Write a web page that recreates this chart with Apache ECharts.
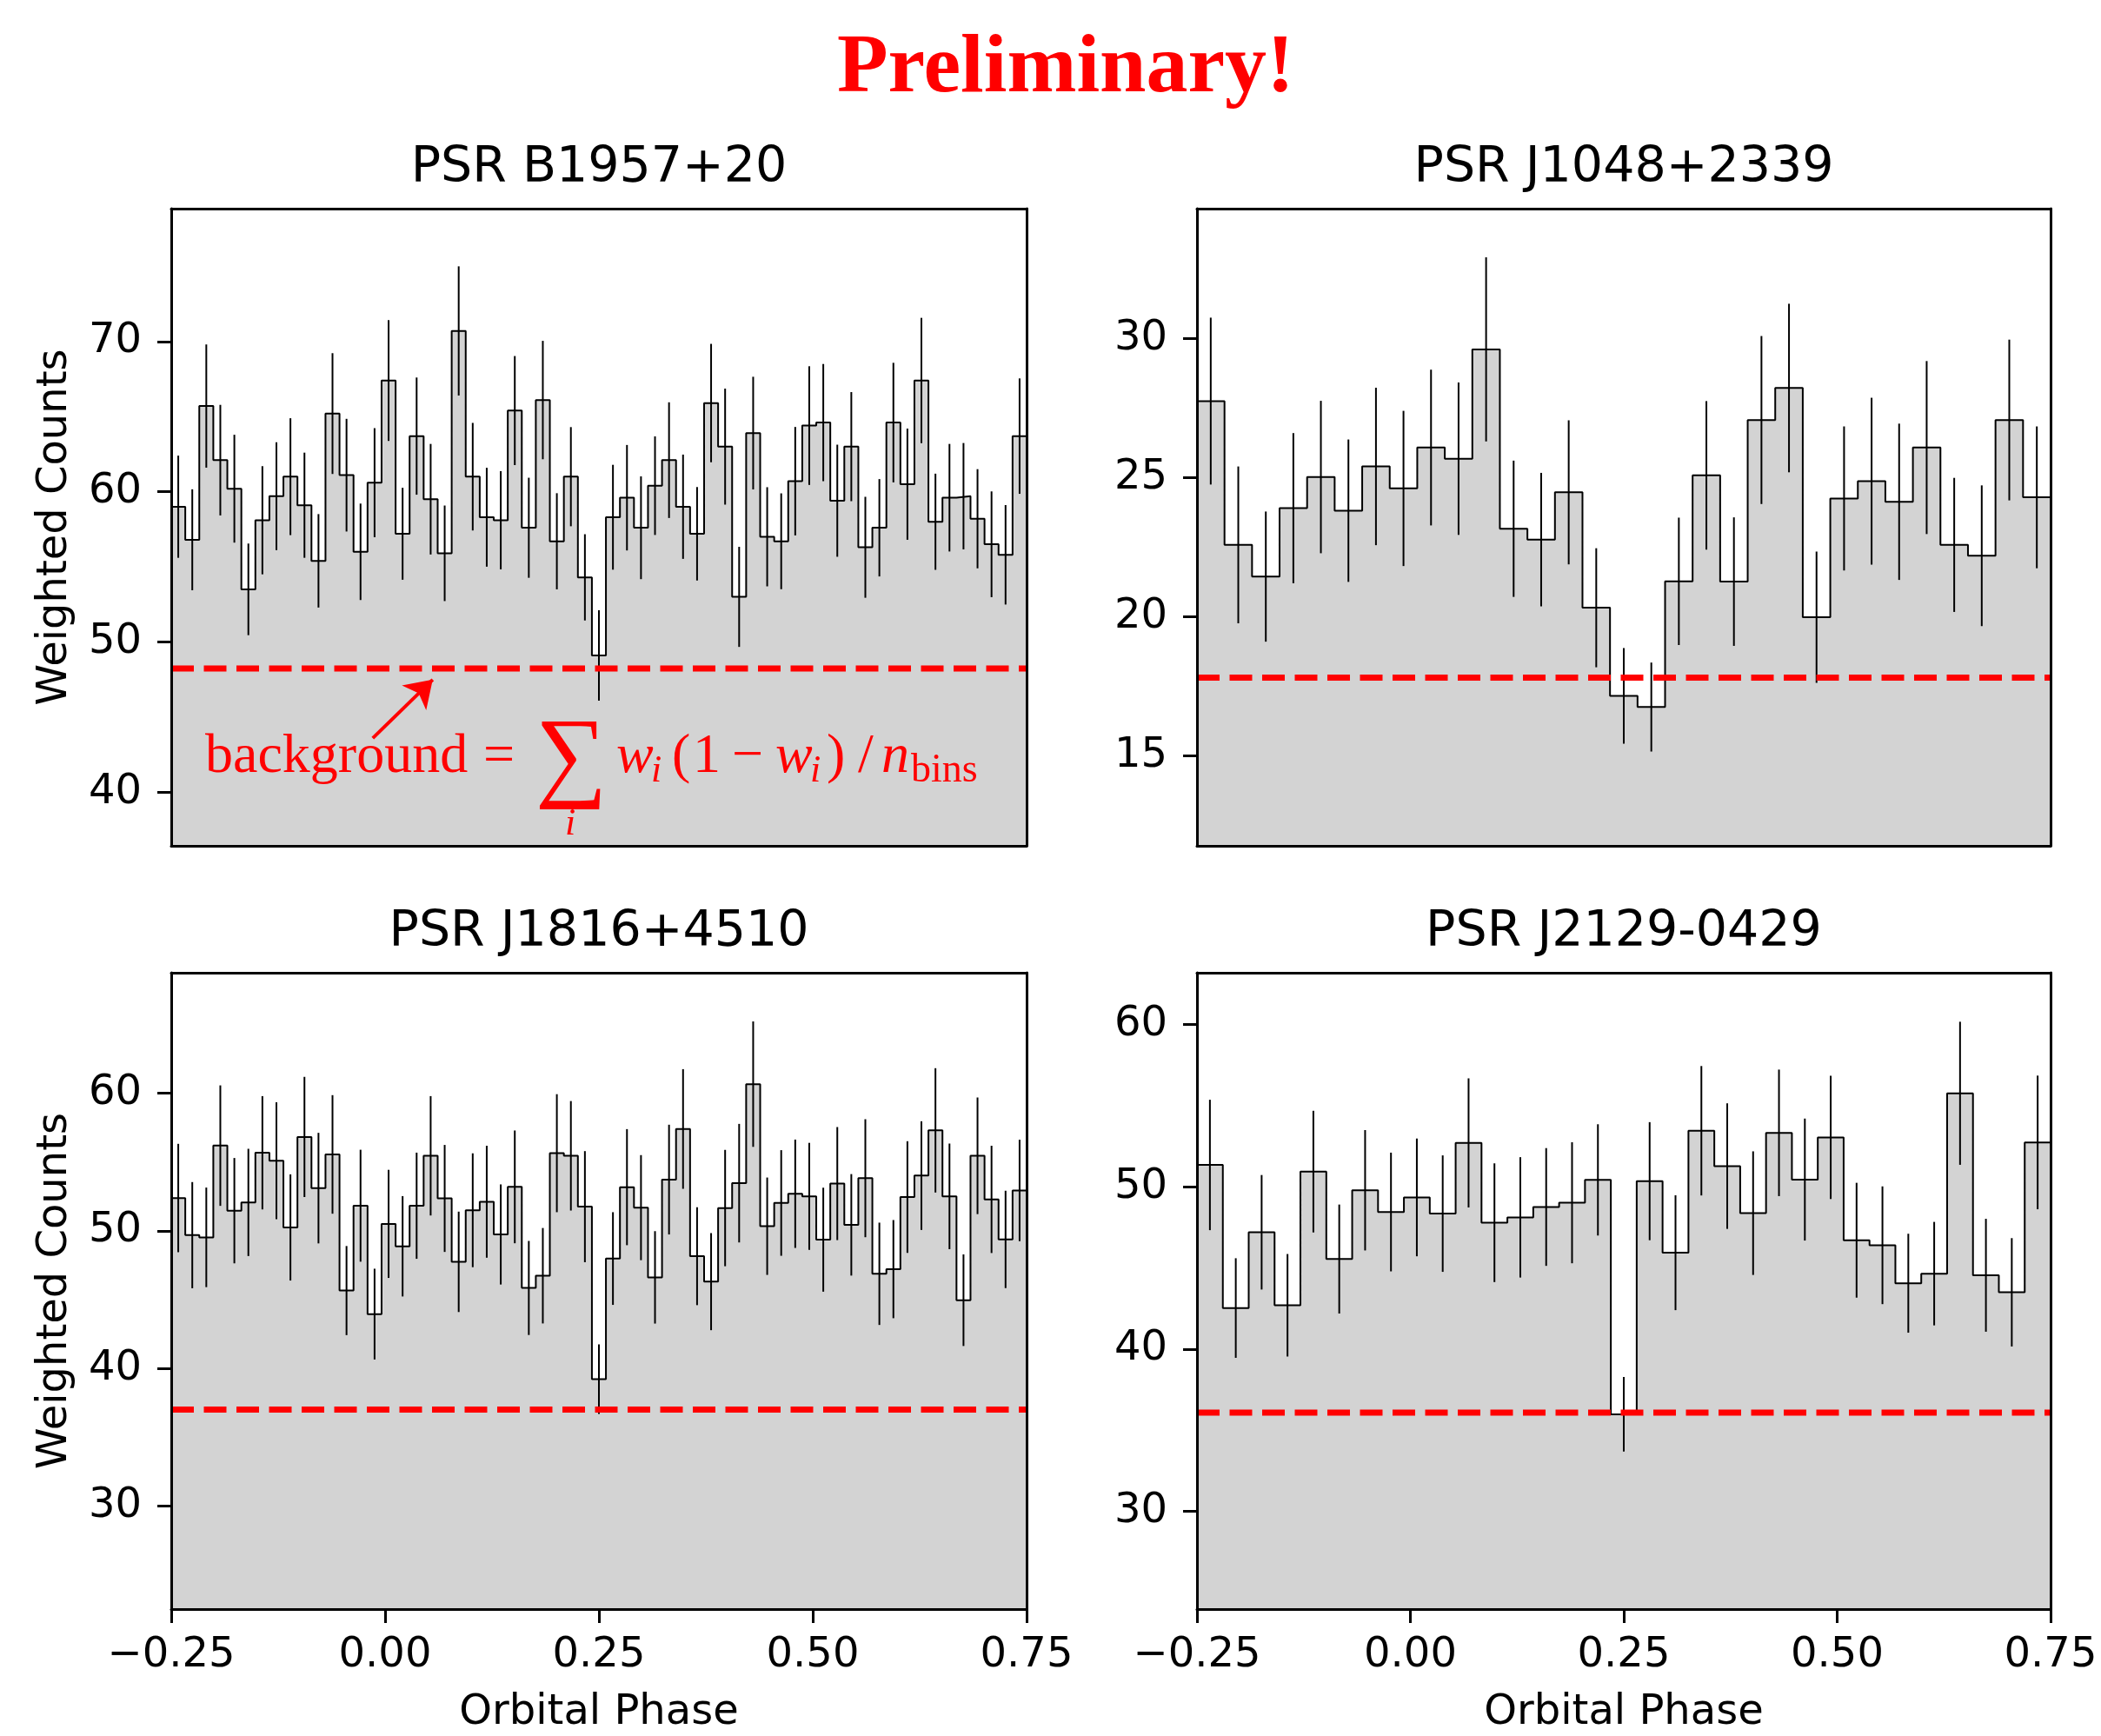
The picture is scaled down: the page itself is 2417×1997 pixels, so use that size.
<!DOCTYPE html>
<html>
<head>
<meta charset="utf-8"/>
<script src="https://cdn.jsdelivr.net/npm/echarts@6/dist/echarts.min.js"></script>
<style>html,body{margin:0;padding:0;background:#fff;}</style>
</head>
<body>
<div id="main" style="width:2417px;height:1997px;"></div>
<script>
// weighted counts per orbital phase bin
var b1957Counts = [59.0,56.8,65.7,62.1,60.2,53.5,58.1,59.7,61.0,59.1,
  55.4,65.2,61.1,56.0,60.6,67.4,57.2,63.7,59.5,55.9,
  70.7,61.0,58.3,58.1,65.4,57.6,66.1,56.7,61.0,54.3,
  49.1,58.3,59.6,57.6,60.4,62.1,59.0,57.2,65.9,63.0,
  53.0,63.9,57.0,56.7,60.7,64.4,64.6,59.4,63.0,56.3,
  57.6,64.6,60.5,67.4,58.0,59.6,59.7,58.2,56.5,55.8,63.7];
var b1957Err = [3.4,3.36,4.1,3.68,3.59,3.05,3.6,3.59,3.89,3.5,
  3.11,4.02,3.75,3.21,3.63,4.02,3.06,3.9,3.68,3.18,
  4.3,3.58,3.29,3.27,3.63,3.33,3.94,3.2,3.3,2.87,
  3.01,3.49,3.51,3.42,3.28,3.85,3.47,3.11,3.94,3.86,
  3.33,3.75,3.3,3.19,3.61,3.95,3.9,3.73,3.63,3.36,
  3.24,3.98,3.7,4.17,3.2,3.58,3.54,3.3,3.52,3.31,3.84];

var j1048Counts = [27.76,22.59,21.45,23.91,25.03,23.82,25.41,24.62,26.09,25.69,
  29.62,23.17,22.78,24.48,20.33,17.16,16.76,21.28,25.09,21.27,
  27.08,28.23,19.99,24.26,24.88,24.14,26.09,22.59,22.2,27.08,24.3];
var j1048Err = [3.0,2.82,2.34,2.7,2.74,2.56,2.83,2.79,2.8,2.74,
  3.31,2.45,2.4,2.59,2.14,1.72,1.6,2.29,2.67,2.31,
  3.02,3.03,2.36,2.59,3.0,2.81,3.11,2.41,2.53,2.89,2.55];

var j1816Counts = [52.39,49.69,49.53,56.2,51.47,52.07,55.68,55.1,50.25,56.83,
  53.11,55.56,45.66,51.83,43.95,50.51,48.88,51.83,55.46,52.36,
  47.75,51.5,52.12,49.74,53.2,45.85,46.74,55.65,55.46,51.76,
  39.22,47.99,53.18,51.69,46.62,53.73,57.41,48.16,46.31,51.66,
  53.47,60.67,50.34,52.03,52.7,52.51,49.36,53.44,50.44,53.83,
  46.88,47.22,52.46,54.02,57.31,52.51,44.96,55.46,52.29,49.38,52.94];
var j1816Err = [3.94,3.86,3.62,4.38,3.83,3.9,4.12,4.25,3.86,4.37,
  4.02,4.31,3.24,4.07,3.3,3.93,3.65,3.86,4.34,3.89,
  3.65,4.14,4.07,3.64,4.1,3.42,3.47,4.29,3.98,4.04,
  2.53,3.37,4.22,3.82,3.36,3.99,4.35,3.56,3.53,4.23,
  4.31,4.56,3.54,3.84,3.94,3.89,3.78,4.11,3.69,4.29,
  3.72,3.57,4.06,3.95,4.52,3.84,3.33,4.24,3.9,3.54,3.69];

var j2129Counts = [51.35,42.53,47.2,42.7,50.94,45.55,49.79,48.45,49.35,48.35,
  52.71,47.79,48.12,48.76,49.02,50.43,35.98,50.35,45.94,53.46,
  51.28,48.38,53.33,50.45,53.05,46.71,46.4,44.06,44.65,55.77,
  44.55,43.5,52.74];
var j2129Err = [4.02,3.07,3.53,3.16,3.75,3.36,3.71,3.66,3.63,3.59,
  3.98,3.66,3.71,3.63,3.73,3.43,2.3,3.64,3.54,3.99,
  3.87,3.81,3.9,3.76,3.8,3.54,3.63,3.05,3.19,4.41,
  3.48,3.34,4.12];

var titles = ['PSR B1957+20', 'PSR J1048+2339', 'PSR J1816+4510', 'PSR J2129-0429'];
var backgrounds = [48.23, 17.82, 37.01, 36.08];
var yRanges = [[36.43, 78.84], [11.77, 34.68], [22.5, 68.77], [23.97, 63.2]];
var yTicks = [[40, 50, 60, 70], [15, 20, 25, 30], [30, 40, 50, 60], [30, 40, 50, 60]];
var xTicks = [-0.25, 0, 0.25, 0.5, 0.75];
var phaseMin = -0.25, phaseMax = 0.75;

var panels = [
  {counts: b1957Counts, err: b1957Err},
  {counts: j1048Counts, err: j1048Err},
  {counts: j1816Counts, err: j1816Err},
  {counts: j2129Counts, err: j2129Err}
];

var FONT = '"DejaVu Sans", sans-serif';
var SERIF = '"Liberation Serif", "DejaVu Serif", serif';
var RED = '#ff0000';

var grids = [
  {left: 197, top: 240, width: 984, height: 733},
  {left: 1377, top: 240, width: 982, height: 733},
  {left: 197, top: 1119, width: 984, height: 732},
  {left: 1377, top: 1119, width: 982, height: 732}
];

function phaseLabel(v) {
  var s = Math.abs(v).toFixed(2);
  return v < -1e-9 ? '\u2212' + s : s;
}

var xAxes = [], yAxes = [], series = [];
var axisLineStyle = {color: '#000', width: 3};

panels.forEach(function (p, i) {
  var bottomRow = i >= 2, leftCol = (i % 2 === 0);
  var n = p.counts.length, w = (phaseMax - phaseMin) / n;

  xAxes.push({
    type: 'value', gridIndex: i, min: phaseMin, max: phaseMax, position: 'bottom', z: 5,
    axisLine: {show: true, onZero: false, lineStyle: axisLineStyle},
    axisTick: {show: bottomRow, customValues: xTicks, length: 16, lineStyle: axisLineStyle},
    axisLabel: {show: bottomRow, customValues: xTicks, margin: 30, formatter: phaseLabel,
      fontSize: 48, fontFamily: FONT, color: '#000'},
    splitLine: {show: false},
    name: bottomRow ? 'Orbital Phase' : '', nameLocation: 'middle', nameGap: 96,
    nameTextStyle: {fontSize: 48, fontFamily: FONT, color: '#000'}
  });
  xAxes.push({
    type: 'value', gridIndex: i, min: phaseMin, max: phaseMax, position: 'top', z: 5,
    axisLine: {show: true, onZero: false, lineStyle: axisLineStyle},
    axisTick: {show: false}, axisLabel: {show: false}, splitLine: {show: false}
  });
  yAxes.push({
    type: 'value', gridIndex: i, min: yRanges[i][0], max: yRanges[i][1], position: 'left', z: 5,
    axisLine: {show: true, onZero: false, lineStyle: axisLineStyle},
    axisTick: {show: true, customValues: yTicks[i], length: 16, lineStyle: axisLineStyle},
    axisLabel: {customValues: yTicks[i], margin: 34, fontSize: 48, fontFamily: FONT, color: '#000'},
    splitLine: {show: false},
    name: leftCol ? 'Weighted Counts' : '', nameLocation: 'middle', nameGap: 109,
    nameTextStyle: {fontSize: 48, fontFamily: FONT, color: '#000'}
  });
  yAxes.push({
    type: 'value', gridIndex: i, min: yRanges[i][0], max: yRanges[i][1], position: 'right', z: 5,
    axisLine: {show: true, onZero: false, lineStyle: axisLineStyle},
    axisTick: {show: false}, axisLabel: {show: false}, splitLine: {show: false}
  });

  var steps = [], bars = [];
  for (var k = 0; k < n; k++) {
    steps.push([phaseMin + k * w, p.counts[k]]);
    bars.push([phaseMin + (k + 0.5) * w, p.counts[k] - p.err[k], p.counts[k] + p.err[k]]);
  }
  steps.push([phaseMax, p.counts[n - 1]]);

  series.push({
    type: 'line', xAxisIndex: 2 * i, yAxisIndex: 2 * i, data: steps, step: 'end',
    showSymbol: false, symbol: 'none', z: 2,
    lineStyle: {color: '#000', width: 2},
    areaStyle: {color: '#d3d3d3', opacity: 1, origin: 'start'}
  });
  series.push({
    type: 'custom', xAxisIndex: 2 * i, yAxisIndex: 2 * i, data: bars, z: 3,
    encode: {x: 0, y: [1, 2]},
    renderItem: function (params, api) {
      var x = api.value(0);
      var lo = api.coord([x, api.value(1)]);
      var hi = api.coord([x, api.value(2)]);
      return {type: 'line', shape: {x1: lo[0], y1: lo[1], x2: hi[0], y2: hi[1]},
        style: {stroke: '#000', lineWidth: 2}};
    }
  });
  var bgSeries = {
    type: 'line', xAxisIndex: 2 * i, yAxisIndex: 2 * i, z: 4, symbol: 'none',
    data: [[phaseMin, backgrounds[i]], [phaseMax, backgrounds[i]]],
    lineStyle: {color: RED, width: 7, type: [26, 11.5]}
  };
  if (i === 0) {
    // arrow pointing from the formula to the background level
    bgSeries.markLine = {
      silent: true, symbol: ['none', 'arrow'], symbolSize: 30,
      label: {show: false},
      lineStyle: {color: RED, width: 4, type: 'solid'},
      data: [[{coord: [-0.0144, 43.6]}, {coord: [0.0557, 47.49]}]]
    };
  }
  series.push(bgSeries);
});

function txt(x, y, text, font, align, fill) {
  return {type: 'text', x: x, y: y, z: 100, style: {text: text, font: font, fill: fill || '#000',
    align: align, textAlign: align, verticalAlign: 'middle', textVerticalAlign: 'middle'}};
}

var MAIN = '64px ' + SERIF, ITAL = 'italic 64px ' + SERIF;
var SUBI = 'italic 44px ' + SERIF, SUB = '46px ' + SERIF;

var graphics = [
  txt(1226, 80, 'Preliminary!', 'bold 96px ' + SERIF, 'center', RED),
  txt(689, 194, titles[0], '57px ' + FONT, 'center'),
  txt(1868, 194, titles[1], '57px ' + FONT, 'center'),
  txt(689, 1073, titles[2], '57px ' + FONT, 'center'),
  txt(1868, 1073, titles[3], '57px ' + FONT, 'center'),
  // background formula
  txt(236, 871, 'background', MAIN, 'left', RED),
  txt(574, 871, '=', MAIN, 'center', RED),
  txt(657, 876, '\u2211', '116px ' + SERIF, 'center', RED),
  txt(656, 948, 'i', SUBI, 'center', RED),
  txt(709, 871, 'w', ITAL, 'left', RED),
  txt(749, 887, 'i', SUBI, 'left', RED),
  txt(773, 871, '(', MAIN, 'left', RED),
  txt(797, 871, '1', MAIN, 'left', RED),
  txt(860, 871, '\u2212', MAIN, 'center', RED),
  txt(892, 871, 'w', ITAL, 'left', RED),
  txt(932, 887, 'i', SUBI, 'left', RED),
  txt(951, 871, ')', MAIN, 'left', RED),
  txt(996, 871, '/', MAIN, 'center', RED),
  txt(1014, 871, 'n', ITAL, 'left', RED),
  txt(1048, 887, 'bins', SUB, 'left', RED)
];

var chart = echarts.init(document.getElementById('main'), null, {renderer: 'canvas'});
chart.setOption({
  animation: false,
  backgroundColor: '#fff',
  grid: grids.map(function (g) { return Object.assign({containLabel: false}, g); }),
  xAxis: xAxes,
  yAxis: yAxes,
  series: series,
  graphic: graphics
});
</script>
</body>
</html>
